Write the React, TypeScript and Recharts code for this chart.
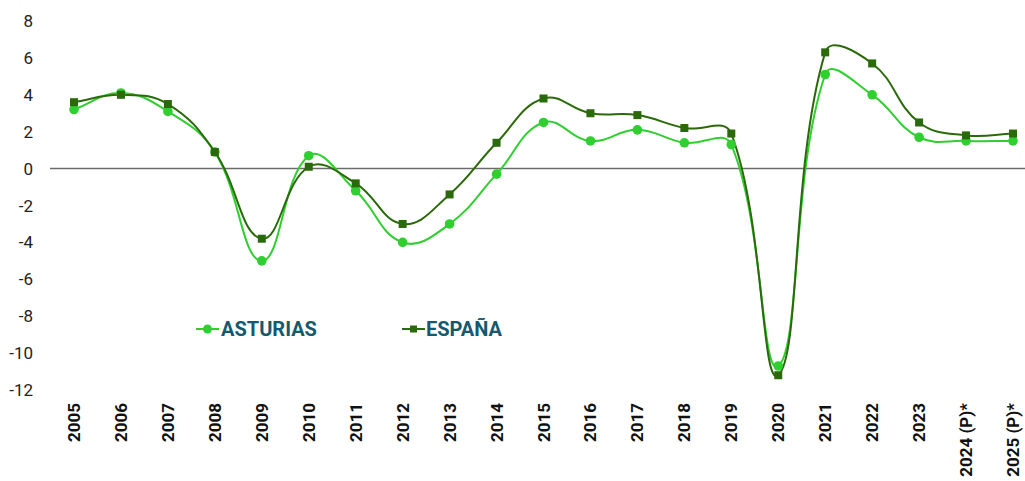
import { LineChart, Line, XAxis, YAxis, ReferenceLine } from "recharts"

const years = [
  "2005", "2006", "2007", "2008", "2009", "2010", "2011", "2012", "2013", "2014",
  "2015", "2016", "2017", "2018", "2019", "2020", "2021", "2022", "2023",
  "2024 (P)*", "2025 (P)*",
]

const asturias = [
  3.2, 4.1, 3.1, 0.9, -5.0, 0.7, -1.2, -4.0, -3.0, -0.3,
  2.5, 1.5, 2.1, 1.4, 1.3, -10.7, 5.1, 4.0, 1.7, 1.5, 1.5,
]

const espana = [
  3.6, 4.0, 3.5, 0.9, -3.8, 0.1, -0.8, -3.0, -1.4, 1.4,
  3.8, 3.0, 2.9, 2.2, 1.9, -11.2, 6.3, 5.7, 2.5, 1.8, 1.9,
]

const yTicks = [-12, -10, -8, -6, -4, -2, 0, 2, 4, 6, 8]

const ASTURIAS_COLOR = "#2fcf2f"
const ESPANA_COLOR = "#2b6a0b"
const LEGEND_TEXT = "#145a6c"

const data = years.map((year, i) => ({ year, ASTURIAS: asturias[i], "ESPAÑA": espana[i] }))

// curva suavizada (tangentes ponderadas por la longitud de cada tramo)
const smoothCurve = (context: any) => {
  let pts: number[][] = []
  const dist = (a: number[], b: number[]) => Math.hypot(b[0] - a[0], b[1] - a[1])
  return {
    areaStart() {},
    areaEnd() {},
    lineStart() {
      pts = []
    },
    point(x: number, y: number) {
      pts.push([+x, +y])
    },
    lineEnd() {
      if (!pts.length) return
      const s = 0.42
      context.moveTo(pts[0][0], pts[0][1])
      for (let i = 0; i < pts.length - 1; i++) {
        const p0 = pts[i - 1] || pts[i]
        const p1 = pts[i]
        const p2 = pts[i + 1]
        const p3 = pts[i + 2] || p2
        const d01 = dist(p0, p1)
        const d12 = dist(p1, p2)
        const d23 = dist(p2, p3)
        const w1 = d01 + d12 > 0 ? (d12 / (d01 + d12)) * s : 0
        const w2 = d12 + d23 > 0 ? (d12 / (d12 + d23)) * s : 0
        context.bezierCurveTo(
          p1[0] + (p2[0] - p0[0]) * w1,
          p1[1] + (p2[1] - p0[1]) * w1,
          p2[0] - (p3[0] - p1[0]) * w2,
          p2[1] - (p3[1] - p1[1]) * w2,
          p2[0],
          p2[1]
        )
      }
    },
  }
}

const SquareDot = (props: any) => {
  const { cx, cy } = props
  if (cx == null || cy == null) return null
  return <rect x={cx - 4} y={cy - 4} width={8} height={8} fill={ESPANA_COLOR} />
}

const CircleDot = (props: any) => {
  const { cx, cy } = props
  if (cx == null || cy == null) return null
  return <circle cx={cx} cy={cy} r={4.8} fill={ASTURIAS_COLOR} />
}

const XTick = ({ x, y, payload }: any) => (
  <text
    x={x}
    y={y}
    transform={`rotate(-90 ${x} ${y})`}
    textAnchor="end"
    dominantBaseline="central"
    fontFamily="Roboto, sans-serif"
    fontWeight={700}
    fontSize={17}
    fill="#111"
  >
    {payload.value}
  </text>
)

const LegendBox = () => (
  <div
    style={{
      position: "absolute",
      left: 196,
      top: 317,
      display: "flex",
      fontFamily: "Roboto, sans-serif",
      fontWeight: 700,
      fontSize: 20,
      lineHeight: "24px",
      color: LEGEND_TEXT,
    }}
  >
    <div style={{ display: "flex", alignItems: "center", width: 206 }}>
      <svg width={24} height={12} style={{ marginRight: 1 }}>
        <line x1={0} y1={6} x2={23} y2={6} stroke={ASTURIAS_COLOR} strokeWidth={2} />
        <circle cx={11.5} cy={6} r={4.5} fill={ASTURIAS_COLOR} />
      </svg>
      <span>ASTURIAS</span>
    </div>
    <div style={{ display: "flex", alignItems: "center" }}>
      <svg width={24} height={12}>
        <line x1={0} y1={6} x2={23} y2={6} stroke={ESPANA_COLOR} strokeWidth={2} />
        <rect x={8} y={2.5} width={7} height={7} fill={ESPANA_COLOR} />
      </svg>
      <span>ESPAÑA</span>
    </div>
  </div>
)

export default function App() {
  return (
    <div style={{ position: "relative", width: 1025, height: 481, background: "#fff" }}>
      <style>{`body { margin: 0; }`}</style>
      <LineChart width={1025} height={481} data={data} margin={{ top: 21, right: 0, left: 0, bottom: 0 }}>
        <XAxis
          dataKey="year"
          axisLine={false}
          tickLine={false}
          interval={0}
          padding={{ left: 24, right: 12 }}
          height={91}
          tickMargin={7}
          tick={<XTick />}
        />
        <YAxis
          type="number"
          domain={[-12, 8]}
          ticks={yTicks}
          interval={0}
          width={50}
          axisLine={false}
          tickLine={false}
          tickMargin={11}
          tick={{ fontFamily: "Roboto, sans-serif", fontSize: 17, fill: "#222" }}
        />
        <ReferenceLine y={0} stroke="#6b6b6b" strokeWidth={1.5} />
        <Line
          dataKey="ASTURIAS"
          type={smoothCurve as any}
          stroke={ASTURIAS_COLOR}
          strokeWidth={2}
          dot={<CircleDot />}
          activeDot={false}
          isAnimationActive={false}
        />
        <Line
          dataKey="ESPAÑA"
          type={smoothCurve as any}
          stroke={ESPANA_COLOR}
          strokeWidth={2}
          dot={<SquareDot />}
          activeDot={false}
          isAnimationActive={false}
        />
      </LineChart>
      <LegendBox />
    </div>
  )
}
